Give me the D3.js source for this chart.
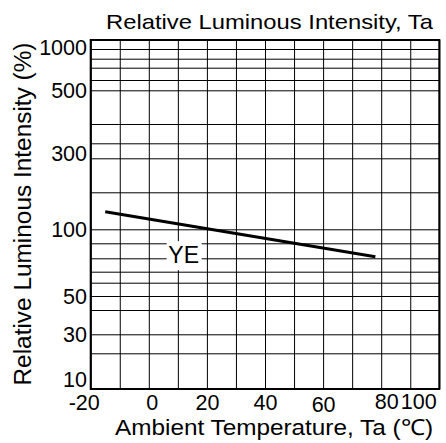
<!DOCTYPE html>
<html><head><meta charset="utf-8">
<script src="https://cdn.jsdelivr.net/npm/d3@7"></script>
<style>body{margin:0;background:#fff} text{font-family:Arial,"Liberation Sans",sans-serif;fill:#000}</style>
</head><body><svg id="c" width="446" height="443"></svg>
<script>
// ---- data ----
const xTicks = [-20, 0, 20, 40, 60, 80, 100];
const xGrid = [-20, -10, 0, 10, 20, 30, 40, 50, 60, 70, 80, 90, 100];
const yTicks = [10, 30, 50, 100, 300, 500, 1000];
const yGrid = [10, 20, 30, 40, 50, 60, 70, 80, 90, 100, 200, 300, 350, 400, 500, 600, 700, 800, 900, 1000];
const seriesName = "YE";
const temps = [-15, 78];
const intensity = [139, 81];
const labelAt = [12, 82];

// ---- layout (hand-drawn datasheet grid: piecewise log scale) ----
const gridY = [389, 353.3, 334.3, 310, 296, 282.7, 271.7, 258.3, 243.3, 229.3, 192.3, 158.3, 143.3, 124, 90.3, 80, 67.7, 58.7, 49, 40];
const L = 90.7, R = 439.3, T = 40, B = 389;

const svg = d3.select("#c");
const x = d3.scaleLinear().domain([-20, 100]).range([L, R]);
const y = d3.scaleLog().domain(yGrid).range(gridY);

// grid
svg.append("g").attr("transform", `translate(0,${B})`)
  .call(d3.axisBottom(x).tickValues(xGrid).tickSize(-(B - T)).tickFormat(""))
  .call(g => g.select(".domain").remove())
  .call(g => g.selectAll("line").attr("stroke", "#000").attr("stroke-width", 1));
svg.append("g").attr("transform", `translate(${L},0)`)
  .call(d3.axisLeft(y).tickValues(yGrid).tickSize(-(R - L)).tickFormat(""))
  .call(g => g.select(".domain").remove())
  .call(g => g.selectAll("line").attr("stroke", "#000").attr("stroke-width", 1));

// frame
svg.append("rect").attr("x", L).attr("y", T).attr("width", R - L).attr("height", B - T)
  .attr("fill", "none").attr("stroke", "#000").attr("stroke-width", 2);

// x tick labels
const xdx = {"-20": -7, "0": 3, "80": 5, "100": -21};
const xbl = {"60": 412, "80": 409, "100": 409};
svg.append("g")
  .call(d3.axisBottom(x).tickValues(xTicks).tickSize(0).tickPadding(0).tickFormat(d => String(d)))
  .call(g => g.select(".domain").remove())
  .call(g => g.selectAll("text")
    .attr("font-size", 21.5).attr("font-family", "Arial, 'Liberation Sans', sans-serif")
    .attr("fill", "#000").attr("dy", null)
    .attr("y", d => xbl[d] || 410)
    .attr("dx", d => xdx[d] || 0));

// y tick labels
const ydy = {"1000": 7, "300": -5, "10": -10};
svg.append("g").attr("transform", `translate(87,0)`)
  .call(d3.axisLeft(y).tickValues(yTicks).tickSize(0).tickPadding(0).tickFormat(d => String(d)))
  .call(g => g.select(".domain").remove())
  .call(g => g.selectAll("text")
    .attr("font-size", 21.5).attr("font-family", "Arial, 'Liberation Sans', sans-serif")
    .attr("fill", "#000")
    .attr("dy", "0.35em")
    .attr("y", d => ydy[d] || 0));

// series line
const pts = temps.map((t, i) => [t, intensity[i]]);
svg.append("path").datum(pts)
  .attr("fill", "none").attr("stroke", "#000").attr("stroke-width", 3)
  .attr("d", d3.line().x(d => x(d[0])).y(d => y(d[1])));

// series label with white box
const lx = x(labelAt[0]), ly = y(labelAt[1]);
svg.append("rect").attr("x", lx - 17).attr("y", ly - 14).attr("width", 35).attr("height", 29).attr("fill", "#fff");
svg.append("text").attr("x", lx).attr("y", ly).attr("dy", "0.35em")
  .attr("text-anchor", "middle").attr("font-size", 23).text(seriesName);

// titles
svg.append("text").attr("x", 269.5).attr("y", 29).attr("text-anchor", "middle")
  .attr("font-size", 21).attr("textLength", 327).attr("lengthAdjust", "spacingAndGlyphs")
  .text("Relative Luminous Intensity, Ta");
svg.append("text").attr("x", 274).attr("y", 435).attr("text-anchor", "middle")
  .attr("font-size", 22).attr("textLength", 318).attr("lengthAdjust", "spacingAndGlyphs")
  .text("Ambient Temperature, Ta (℃)");
svg.append("text").attr("transform", "translate(31,214) rotate(-90)").attr("text-anchor", "middle")
  .attr("font-size", 23).attr("textLength", 343).attr("lengthAdjust", "spacingAndGlyphs")
  .text("Relative Luminous Intensity (%)");
</script></body></html>
